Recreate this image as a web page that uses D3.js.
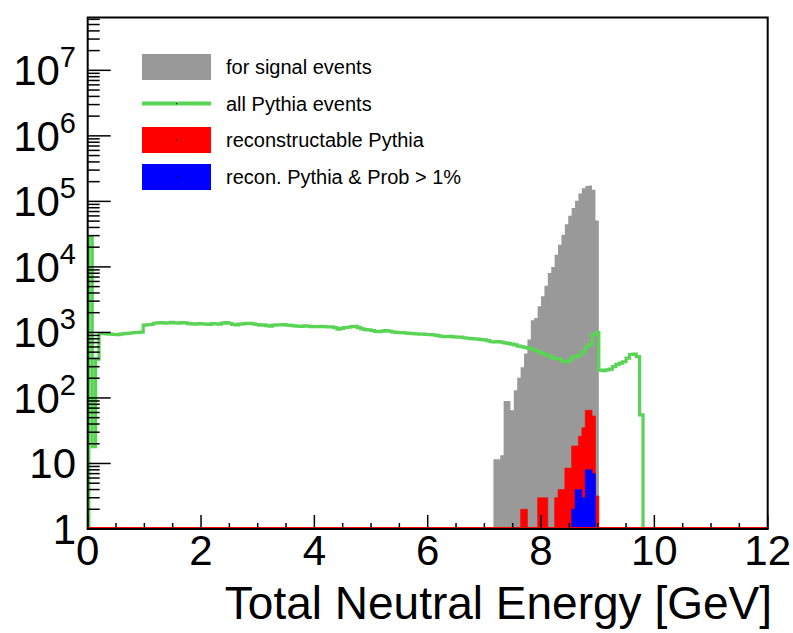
<!DOCTYPE html>
<html><head><meta charset="utf-8">
<script src="https://cdn.jsdelivr.net/npm/d3@7"></script>
<style>body{margin:0;background:#fff}svg{display:block}</style>
</head><body>
<svg id="c" width="793" height="633"></svg>
<script>
// ---------------- data ----------------
const binWidth = 0.06;
const greenStart = 0.02;           // lower edge of first green bin (GeV)
const greenValues = [
  29000, 18, 390,
  960, 955, 950, 940, 930, 925, 945, 960, 970, 980, 990, 1000, 1010,
  1290, 1310, 1320, 1380, 1400, 1410, 1390, 1400, 1420, 1400, 1390, 1410, 1400, 1360, 1350, 1340, 1360,
  1350, 1340, 1330, 1360, 1350, 1340, 1390, 1410, 1380, 1330, 1300, 1340, 1350, 1370, 1380, 1350, 1320,
  1290, 1300, 1270, 1250, 1290, 1310, 1300, 1320, 1290, 1280, 1260, 1250, 1240, 1260, 1250, 1230,
  1230, 1220, 1240, 1230, 1210, 1220, 1180, 1120, 1150, 1190, 1200, 1230, 1240, 1180, 1130, 1100, 1090,
  1070, 1040, 1030, 1050, 1065, 1050, 1020, 1000, 995, 990, 975, 965, 960, 950, 945, 940, 930,
  925, 915, 900, 880, 860, 865, 870, 855, 845, 850, 830, 815, 805, 800, 790, 775, 770, 750, 720,
  716, 724, 710, 695, 680, 665, 645, 620, 605, 590, 570, 554, 530, 505,
  480, 453, 440, 410, 400, 395, 360, 355, 375, 420, 430, 455, 510, 600, 650, 915, 990,
  265, 262, 268, 275, 300, 325, 340, 357, 405, 460, 468, 427, 55
];
const signalStart = 7.16;          // lower edge of first signal / reconstructed bin (GeV)
const signalValues = [
  11.6, 11.6, 13.4, 90, 90, 65, 131, 204, 295, 476, 780, 1540, 1660, 2500, 3550, 5150,
  8100, 9950, 15350, 21800, 30900, 44700, 60300, 79400, 102000, 132000, 158000, 172000, 175000, 150000, 51000
];
const recoValues = [
  0, 0, 0, 0, 0, 0, 0, 0, 2, 2, 0, 0, 0, 3, 3, 3,
  0, 0, 3, 4, 4, 8.5, 8.5, 18.5, 18.5, 26, 35, 65, 65, 53, 3.2
];
const probValues = [
  0, 0, 0, 0, 0, 0, 0, 0, 0, 0, 0, 0, 0, 0, 0, 0,
  0, 0, 0, 0, 0, 0, 0, 2, 4, 4, 3, 8, 8, 7, 0
];
const xTickValues = [0, 2, 4, 6, 8, 10, 12];
const yTickExponents = [0, 1, 2, 3, 4, 5, 6, 7];
const legendLabels = ["for signal events", "all Pythia events", "reconstructable Pythia", "recon. Pythia & Prob > 1%"];
const xTitle = "Total Neutral Energy [GeV]";

// ---------------- layout ----------------
const L = 87.7, R = 767.7, T = 17.5, B = 529;
const colors = {gray: "#999999", green: "#59d454", red: "#ff0000", blue: "#0000ff"};
const FONT = "'Liberation Sans', Arial, Helvetica, sans-serif";

const svg = d3.select("#c");
const x = d3.scaleLinear().domain([0, 12]).range([L, R]);
const y = d3.scaleLog().domain([1, 6.4e7]).range([B, T]);

svg.append("defs").append("clipPath").attr("id", "clip")
  .append("rect").attr("x", L).attr("y", T).attr("width", R - L).attr("height", B - T);

const plot = svg.append("g").attr("clip-path", "url(#clip)");

function binsFrom(start, vals) {
  return vals.map((v, i) => ({x0: start + i * binWidth, x1: start + (i + 1) * binWidth, v}));
}
const yv = v => v >= 1 ? y(v) : B + 3;

function stepPoints(bins) {
  const pts = [[x(bins[0].x0), B + 3]];
  bins.forEach(b => { pts.push([x(b.x0), yv(b.v)]); pts.push([x(b.x1), yv(b.v)]); });
  pts.push([x(bins[bins.length - 1].x1), B + 3]);
  return pts;
}

// gray signal histogram (filled)
const sig = binsFrom(signalStart, signalValues);
plot.append("path").attr("d", d3.line()(stepPoints(sig)) + "Z")
  .attr("fill", colors.gray).attr("stroke", "none");

// y ticks drawn before green so that the green line covers them
const ax = svg.append("g").attr("stroke", "#000");
yTickExponents.forEach(e => {
  const v = Math.pow(10, e);
  ax.append("line").attr("x1", L).attr("x2", L + 23).attr("y1", y(v)).attr("y2", y(v)).attr("stroke-width", 1.5);
  for (let m = 2; m <= 9; m++) {
    const mv = m * v;
    if (mv > 6.4e7) break;
    ax.append("line").attr("x1", L).attr("x2", L + 12).attr("y1", y(mv)).attr("y2", y(mv)).attr("stroke-width", 1.5);
  }
});
d3.range(0, 12.01, 0.5).forEach(t => {
  const major = Math.abs(t % 2) < 1e-6;
  const len = major ? 14 : 6;
  ax.append("line").attr("x1", x(t)).attr("x2", x(t)).attr("y1", B).attr("y2", B - len).attr("stroke-width", 1.5);
});

// green all-Pythia line
const grn = binsFrom(greenStart, greenValues);
const gpts = stepPoints(grn);
gpts.push([x(12) + 5, B + 3]);
plot.append("path").attr("d", d3.line()(gpts))
  .attr("fill", "none").attr("stroke", colors.green).attr("stroke-width", 3.2)
  .attr("stroke-linejoin", "miter");

// red reconstructable
const rec = binsFrom(signalStart, recoValues);
plot.append("path").attr("d", d3.line()(stepPoints(rec)) + "Z")
  .attr("fill", colors.red).attr("stroke", colors.red).attr("stroke-width", 0.6);

// blue prob > 1%
const prb = binsFrom(signalStart, probValues);
plot.append("path").attr("d", d3.line()(stepPoints(prb)) + "Z")
  .attr("fill", colors.blue).attr("stroke", colors.blue).attr("stroke-width", 0.6);

// baseline outlines (empty bins drawn along bottom)
plot.append("line").attr("x1", L).attr("x2", R).attr("y1", B - 1.5).attr("y2", B - 1.5)
  .attr("stroke", colors.red).attr("stroke-width", 1);
plot.append("line").attr("x1", L).attr("x2", R).attr("y1", B + 0.5).attr("y2", B + 0.5)
  .attr("stroke", colors.blue).attr("stroke-width", 2.5);

// frame
svg.append("rect").attr("x", L).attr("y", T).attr("width", R - L).attr("height", B - T)
  .attr("fill", "none").attr("stroke", "#000").attr("stroke-width", 2);

// y labels
const yl = svg.append("g").attr("font-family", FONT).attr("fill", "#000");
yTickExponents.forEach(e => {
  const t = yl.append("text").attr("x", 76).attr("y", y(Math.pow(10, e)) + 15)
    .attr("text-anchor", "end").attr("font-size", 42);
  if (e === 0) t.text("1");
  else if (e === 1) t.text("10");
  else {
    t.append("tspan").text("10");
    t.append("tspan").attr("font-size", 29).attr("dy", -18).text(e);
  }
});
// x labels
xTickValues.forEach(v => {
  svg.append("text").attr("x", x(v)).attr("y", 565).attr("text-anchor", "middle")
    .attr("font-family", FONT).attr("font-size", 42).text(v);
});
svg.append("text").attr("x", 772).attr("y", 619).attr("text-anchor", "end")
  .attr("font-family", FONT).attr("font-size", 46).text(xTitle);

// ---------------- legend ----------------
const lg = svg.append("g");
const lgY = [67, 103.5, 140, 177];
lgY.forEach((cy, i) => {
  if (i === 1) {
    lg.append("line").attr("x1", 142).attr("x2", 211).attr("y1", cy).attr("y2", cy)
      .attr("stroke", colors.green).attr("stroke-width", 4);
  } else {
    lg.append("rect").attr("x", 142).attr("y", cy - 13).attr("width", 69).attr("height", 26)
      .attr("fill", [colors.gray, null, colors.red, colors.blue][i]);
  }
  if (i > 0) lg.append("rect").attr("x", 176).attr("y", cy - 0.5).attr("width", 1.2).attr("height", 1.2).attr("fill", "#000");
  lg.append("text").attr("x", 226).attr("y", cy + 7).attr("font-family", FONT).attr("font-size", 20)
    .attr("fill", "#000").text(legendLabels[i]);
});
</script>
</body></html>
